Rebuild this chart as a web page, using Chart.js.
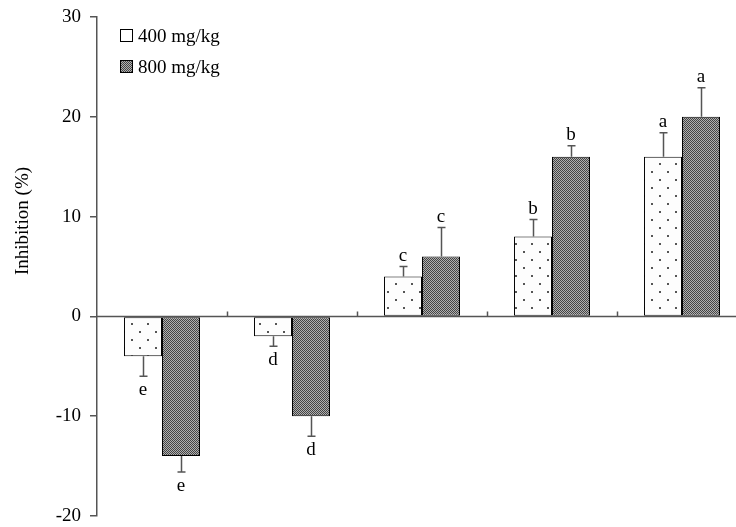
<!DOCTYPE html>
<html>
<head>
<meta charset="utf-8">
<script src="https://cdn.jsdelivr.net/npm/chart.js@4/dist/chart.umd.min.js"></script>
<style>
  html, body { margin: 0; padding: 0; background: #fff; }
  #wrap { width: 736px; height: 527px; overflow: hidden; position: relative; }
</style>
</head>
<body>
<div id="wrap"><canvas id="chart" width="748" height="527"></canvas></div>
<script>
// data
const groups = ["1", "2", "3", "4", "5"];
const seriesNames = ["400 mg/kg", "800 mg/kg"];
const dose400 = [-4, -2, 4, 8, 16];
const dose800 = [-14, -10, 6, 16, 20];
const err400 = [2, 1, 1, 1.7, 2.4];
const err800 = [1.6, 2, 2.9, 1.1, 2.9];
const letters400 = ["e", "d", "c", "b", "a"];
const letters800 = ["e", "d", "c", "b", "a"];
const yTicks = [-20, -10, 0, 10, 20, 30];

const FONT = "'Liberation Serif', 'Times New Roman', serif";
const AXIS = "#555";

function dotPattern() {
  const c = document.createElement("canvas");
  c.width = 16; c.height = 16;
  const g = c.getContext("2d");
  g.fillStyle = "#fdfdfd";
  g.fillRect(0, 0, 16, 16);
  g.fillStyle = "#555";
  g.fillRect(3, 3, 2, 2);
  g.fillRect(11, 11, 2, 2);
  return g.createPattern(c, "repeat");
}

function checkPattern() {
  const c = document.createElement("canvas");
  c.width = 2; c.height = 2;
  const g = c.getContext("2d");
  g.fillStyle = "#b0b0b0";
  g.fillRect(0, 0, 2, 2);
  g.fillStyle = "#444";
  g.fillRect(0, 0, 1, 1);
  g.fillRect(1, 1, 1, 1);
  return g.createPattern(c, "repeat");
}

const fills = [dotPattern(), checkPattern()];
const errs = [err400, err800];
const letters = [letters400, letters800];

const extras = {
  id: "extras",
  afterDatasetsDraw(chart) {
    const ctx = chart.ctx;
    const y = chart.scales.y;
    const area = chart.chartArea;
    const y0 = y.getPixelForValue(0);

    ctx.save();
    // x axis line at zero with small upward ticks between groups
    ctx.strokeStyle = AXIS;
    ctx.lineWidth = 1.5;
    ctx.beginPath();
    ctx.moveTo(area.left, y0);
    ctx.lineTo(area.right, y0);
    const step = (area.right - area.left) / groups.length;
    for (let i = 1; i < groups.length; i++) {
      const px = Math.round(area.left + step * i) + 0.5;
      ctx.moveTo(px, y0);
      ctx.lineTo(px, y0 - 5);
    }
    ctx.stroke();

    // error bars + letters
    ctx.font = "19px " + FONT;
    ctx.textAlign = "center";
    ctx.textBaseline = "alphabetic";
    chart.data.datasets.forEach((ds, di) => {
      const meta = chart.getDatasetMeta(di);
      meta.data.forEach((bar, i) => {
        const v = ds.data[i];
        const end = v >= 0 ? v + errs[di][i] : v - errs[di][i];
        const pyv = y.getPixelForValue(v);
        const pye = y.getPixelForValue(end);
        const cx = Math.round(bar.x) + 0.5;
        ctx.strokeStyle = AXIS;
        ctx.lineWidth = 1.5;
        ctx.beginPath();
        ctx.moveTo(cx, pyv);
        ctx.lineTo(cx, pye);
        ctx.moveTo(cx - 4, pye);
        ctx.lineTo(cx + 4, pye);
        ctx.stroke();
        ctx.fillStyle = "#000";
        const ty = v >= 0 ? pye - 6 : pye + 19;
        ctx.fillText(letters[di][i], bar.x, ty);
      });
    });

    // legend inside the plot
    const lx = 120, ly = [29, 60];
    seriesNames.forEach((name, i) => {
      ctx.fillStyle = i === 0 ? "#fff" : fills[1];
      ctx.fillRect(lx, ly[i], 12, 12);
      ctx.strokeStyle = "#000";
      ctx.lineWidth = 1;
      ctx.strokeRect(lx + 0.5, ly[i] + 0.5, 12, 12);
      ctx.fillStyle = "#000";
      ctx.textAlign = "left";
      ctx.fillText(name, lx + 18, ly[i] + 13);
    });

    // y axis title
    ctx.translate(28, 221);
    ctx.rotate(-Math.PI / 2);
    ctx.textAlign = "center";
    ctx.fillText("Inhibition (%)", 0, 0);
    ctx.restore();
  }
};

new Chart(document.getElementById("chart"), {
  type: "bar",
  data: {
    labels: groups,
    datasets: [
      { label: seriesNames[0], data: dose400, backgroundColor: fills[0],
        borderColor: "#000", borderWidth: 1, borderSkipped: false },
      { label: seriesNames[1], data: dose800, backgroundColor: fills[1],
        borderColor: "#000", borderWidth: 1, borderSkipped: false }
    ]
  },
  options: {
    responsive: false,
    animation: false,
    categoryPercentage: 0.585,
    barPercentage: 1,
    layout: { padding: { top: 17, bottom: 11, right: 1, left: 0 } },
    plugins: { legend: { display: false }, tooltip: { enabled: false } },
    scales: {
      x: { display: false, offset: true },
      y: {
        min: -20, max: 30,
        afterBuildTicks(s) { s.ticks = yTicks.map(v => ({ value: v })); },
        afterFit(s) {
          s.width = 97;
          s.paddingTop = 0;
          s.paddingBottom = 0;
        },
        border: { color: AXIS, width: 1.5 },
        grid: { drawOnChartArea: false, color: AXIS, tickLength: 7, lineWidth: 1.5 },
        ticks: { color: "#000", padding: 9, font: { family: FONT, size: 19 } }
      }
    }
  },
  plugins: [extras]
});
</script>
</body>
</html>
